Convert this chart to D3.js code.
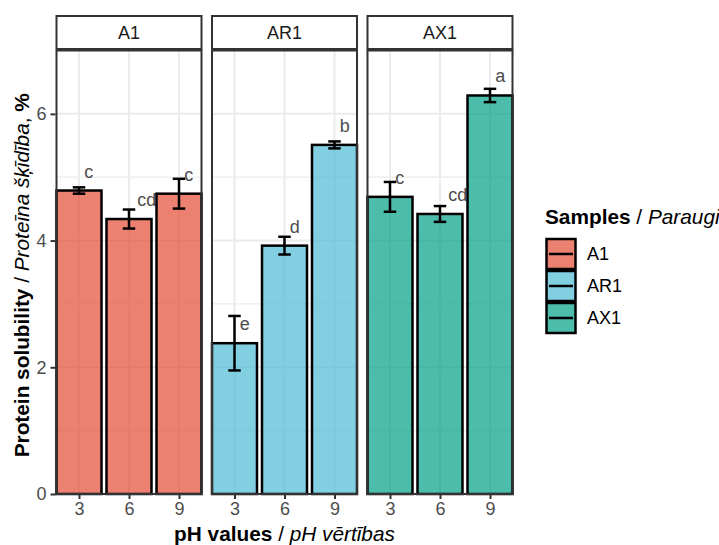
<!DOCTYPE html>
<html>
<head>
<meta charset="utf-8">
<script src="https://cdn.jsdelivr.net/npm/d3@7.9.0/dist/d3.min.js"></script>
<style>
  body { margin: 0; background: #fff; }
  svg { font-family: "Liberation Sans", Arial, sans-serif; }
</style>
</head>
<body>
<svg id="chart" width="719" height="545"></svg>
<script>
// data
const samples = ["A1", "AR1", "AX1"];
const phLevels = ["3", "6", "9"];
const meansA1 = [4.79, 4.34, 4.74];
const meansAR1 = [2.38, 3.92, 5.51];
const meansAX1 = [4.69, 4.42, 6.29];
const sdA1 = [0.05, 0.15, 0.235];
const sdAR1 = [0.43, 0.14, 0.055];
const sdAX1 = [0.235, 0.125, 0.105];
const lettersA1 = ["c", "cd", "c"];
const lettersAR1 = ["e", "d", "b"];
const lettersAX1 = ["c", "cd", "a"];
const yTicks = [0, 2, 4, 6];
const yMinor = [1, 3, 5];
const fills = ["#E64B35", "#4DBBD5", "#00A087"];

const means = { A1: meansA1, AR1: meansAR1, AX1: meansAX1 };
const sds = { A1: sdA1, AR1: sdAR1, AX1: sdAX1 };
const letters = { A1: lettersA1, AR1: lettersAR1, AX1: lettersAX1 };

let rows = [];
samples.forEach(s => {
  phLevels.forEach((p, i) => {
    rows.push({ sample: s, ph: p, mean: means[s][i], sd: sds[s][i], letter: letters[s][i] });
  });
});

let svg = d3.select("#chart");
let margin = { top: 50.5, bottom: 494, left: 56.5, right: 512.5 };
let stripTop = 16;
let smallFont = "18px";
let titleFont = "20.8px";

let color = d3.scaleOrdinal().domain(samples).range(fills);
let facet = d3.scaleBand().domain(samples).range([margin.left, margin.right]).paddingInner(0.0675);
let pw = facet.bandwidth();
let xScale = d3.scalePoint().domain(phLevels).range([0, pw]).padding(0.45);
let step = xScale.step();
let yScale = d3.scaleLinear().domain([0, 7]).range([margin.bottom, margin.top]);

let gridCol = "#EBEBEB";
let darkCol = "#333333";
let tickText = "#4D4D4D";

samples.forEach(s => {
  let g = svg.append("g").attr("transform", `translate(${facet(s)},0)`);
  let data = rows.filter(d => d.sample === s);

  // grid
  g.selectAll(".minor").data(yMinor).enter().append("line")
    .attr("x1", 0).attr("x2", pw)
    .attr("y1", d => yScale(d)).attr("y2", d => yScale(d))
    .attr("stroke", gridCol).attr("stroke-width", 1.2);
  g.selectAll(".major").data(yTicks).enter().append("line")
    .attr("x1", 0).attr("x2", pw)
    .attr("y1", d => yScale(d)).attr("y2", d => yScale(d))
    .attr("stroke", gridCol).attr("stroke-width", 2);
  g.selectAll(".vgrid").data(phLevels).enter().append("line")
    .attr("x1", d => xScale(d)).attr("x2", d => xScale(d))
    .attr("y1", margin.top).attr("y2", margin.bottom)
    .attr("stroke", gridCol).attr("stroke-width", 2);

  // letters (drawn under bars)
  g.selectAll(".letter").data(data).enter().append("text")
    .attr("x", d => xScale(d.ph) + 2.5 + 0.3 * (d.letter.length * 9.5))
    .attr("y", d => yScale(d.mean) - 13)
    .style("font-size", smallFont)
    .attr("fill", tickText)
    .text(d => d.letter);

  // bars
  g.selectAll(".bar").data(data).enter().append("rect")
    .attr("x", d => xScale(d.ph) - step * 0.45)
    .attr("width", step * 0.9)
    .attr("y", d => yScale(d.mean))
    .attr("height", d => margin.bottom - yScale(d.mean))
    .attr("fill", color(s)).attr("fill-opacity", 0.7)
    .attr("stroke", "black").attr("stroke-width", 2.5);

  // error bars
  let cap = step * 0.125;
  let eb = g.selectAll(".eb").data(data).enter().append("g")
    .attr("stroke", "black").attr("stroke-width", 2.5);
  eb.append("line")
    .attr("x1", d => xScale(d.ph)).attr("x2", d => xScale(d.ph))
    .attr("y1", d => yScale(d.mean - d.sd)).attr("y2", d => yScale(d.mean + d.sd));
  eb.append("line")
    .attr("x1", d => xScale(d.ph) - cap).attr("x2", d => xScale(d.ph) + cap)
    .attr("y1", d => yScale(d.mean - d.sd)).attr("y2", d => yScale(d.mean - d.sd));
  eb.append("line")
    .attr("x1", d => xScale(d.ph) - cap).attr("x2", d => xScale(d.ph) + cap)
    .attr("y1", d => yScale(d.mean + d.sd)).attr("y2", d => yScale(d.mean + d.sd));

  // panel border
  g.append("rect")
    .attr("x", 0).attr("y", margin.top).attr("width", pw).attr("height", margin.bottom - margin.top)
    .attr("fill", "none").attr("stroke", darkCol).attr("stroke-width", 2);

  // strip
  g.append("rect")
    .attr("x", 0).attr("y", stripTop).attr("width", pw).attr("height", margin.top - 1.5 - stripTop)
    .attr("fill", "white").attr("stroke", darkCol).attr("stroke-width", 2);
  g.append("text")
    .attr("x", pw / 2).attr("y", (stripTop + margin.top - 1.5) / 2)
    .attr("text-anchor", "middle").attr("dominant-baseline", "central")
    .style("font-size", smallFont).attr("fill", "#1A1A1A")
    .text(s);

  // x axis
  let xAxis = g.append("g").attr("transform", `translate(0,${margin.bottom})`)
    .call(d3.axisBottom(xScale).tickSize(5).tickPadding(3));
  xAxis.select(".domain").remove();
  xAxis.selectAll(".tick line").attr("stroke", darkCol).attr("stroke-width", 2);
  xAxis.selectAll(".tick text").style("font-size", smallFont).attr("fill", tickText)
    .attr("font-family", "Liberation Sans, Arial, sans-serif");
});

// y axis
let yAxis = svg.append("g").attr("transform", `translate(${margin.left - 1},0)`)
  .call(d3.axisLeft(yScale).tickValues(yTicks).tickFormat(d3.format("d")).tickSize(5).tickPadding(4));
yAxis.select(".domain").remove();
yAxis.selectAll(".tick line").attr("stroke", darkCol).attr("stroke-width", 2);
yAxis.selectAll(".tick text").style("font-size", smallFont).attr("fill", tickText)
  .attr("font-family", "Liberation Sans, Arial, sans-serif");

// axis titles
let xt = svg.append("text")
  .attr("x", (margin.left + margin.right) / 2).attr("y", 541)
  .attr("text-anchor", "middle").style("font-size", titleFont).attr("fill", "black");
xt.append("tspan").attr("font-weight", "bold").text("pH values");
xt.append("tspan").text(" / ");
xt.append("tspan").attr("font-style", "italic").text("pH vērtības");

let yt = svg.append("text")
  .attr("transform", `translate(29,${(margin.top + margin.bottom) / 2 + 3}) rotate(-90)`)
  .attr("text-anchor", "middle").style("font-size", titleFont).attr("fill", "black");
yt.append("tspan").attr("font-weight", "bold").text("Protein solubility");
yt.append("tspan").text(" / ");
yt.append("tspan").attr("font-style", "italic").text("Proteīna šķīdība");
yt.append("tspan").text(", ");
yt.append("tspan").attr("font-weight", "bold").text("%");

// legend
let legend = svg.append("g").attr("transform", "translate(545,0)");
let lt = legend.append("text").attr("x", 0).attr("y", 224)
  .style("font-size", titleFont).attr("fill", "black");
lt.append("tspan").attr("font-weight", "bold").text("Samples");
lt.append("tspan").text(" / ");
lt.append("tspan").attr("font-style", "italic").text("Paraugi");

samples.forEach((s, i) => {
  let row = legend.append("g").attr("transform", `translate(0,${238 + i * 32})`);
  row.append("rect")
    .attr("x", 1.5).attr("y", 1).attr("width", 29).attr("height", 30)
    .attr("fill", color(s)).attr("fill-opacity", 0.7)
    .attr("stroke", "black").attr("stroke-width", 2.5);
  row.append("line")
    .attr("x1", 4).attr("x2", 28).attr("y1", 16).attr("y2", 16)
    .attr("stroke", "black").attr("stroke-width", 2.5);
  row.append("text")
    .attr("x", 42).attr("y", 16).attr("dominant-baseline", "central")
    .style("font-size", smallFont).attr("fill", "black")
    .text(s);
});
</script>
</body>
</html>
